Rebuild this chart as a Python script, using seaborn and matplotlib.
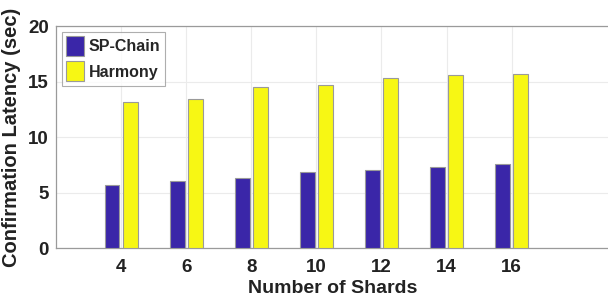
import pandas as pd
import matplotlib

matplotlib.use('Agg')

import matplotlib.pyplot as plt
import seaborn as sns

# values
shards = [4, 6, 8, 10, 12, 14, 16]
sp_chain = [5.72, 6.02, 6.35, 6.85, 7.05, 7.3, 7.6]
harmony = [13.18, 13.4, 14.53, 14.65, 15.3, 15.57, 15.72]
series = ["SP-Chain", "Harmony"]
colors = ["#3a26a8", "#f7f714"]

data = pd.DataFrame({
    "shards": shards * 2,
    "latency": sp_chain + harmony,
    "system": [series[0]] * len(shards) + [series[1]] * len(shards),
})

sns.set_style("white")
plt.rcParams['font.family'] = ['Liberation Sans', 'DejaVu Sans']
plt.rcParams['font.weight'] = 'bold'

fig = plt.figure(figsize=(6.08, 3.01), dpi=100)
ax = fig.add_axes([0.0921, 0.176, 0.91, 0.7375])

sns.barplot(data=data, x="shards", y="latency", hue="system", hue_order=series,
            palette=colors, saturation=1, native_scale=True, width=0.56, gap=0.18,
            edgecolor="#9a9a9a", linewidth=0.8, ax=ax, zorder=3)

ax.set_xlim(2, 19)
ax.set_ylim(0, 20)
ax.set_xticks(shards)
ax.set_xticklabels([str(s) for s in shards])
ax.set_yticks([0, 5, 10, 15, 20])
ax.grid(True, color="#ebebeb", linewidth=0.8, zorder=0)
ax.set_axisbelow(True)
ax.tick_params(axis='both', labelsize=13.5, length=0, colors="#222222")
ax.tick_params(axis='x', pad=8)
ax.tick_params(axis='y', pad=5)
for lab in ax.get_xticklabels() + ax.get_yticklabels():
    lab.set_fontweight('bold')

for side in ["left", "bottom", "top"]:
    ax.spines[side].set_color("#9a9a9a")
    ax.spines[side].set_linewidth(0.9)
ax.spines["right"].set_visible(False)

ax.set_xlabel("Number of Shards", fontsize=14, fontweight='bold', color="#222222", labelpad=3)
ax.set_ylabel("Confirmation Latency (sec)", fontsize=14.5, fontweight='bold', color="#222222", labelpad=5)

leg = ax.legend(loc="upper left", fontsize=11.5, frameon=True, fancybox=False,
                edgecolor="#9a9a9a", handlelength=1.1, handleheight=1.5,
                handletextpad=0.3, borderpad=0.3, labelspacing=0.35,
                borderaxespad=0.35)
leg.get_frame().set_linewidth(0.8)
for t in leg.get_texts():
    t.set_fontweight('bold')

fig.savefig("out.png", dpi=100)
